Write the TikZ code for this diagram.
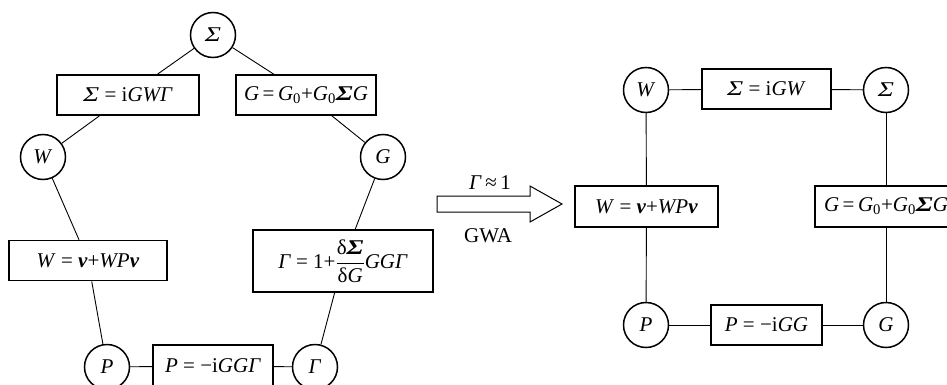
\documentclass[tikz,border=0pt]{standalone}
\usepackage{amsmath,graphicx}
\usepackage{fontspec}
\setmainfont{Liberation Serif}
\newcommand{\vi}[1]{\textit{#1}}
\newcommand{\vb}[1]{\textbf{\textit{#1}}}
\newcommand{\zsub}{\textsubscript{0}}
\newcommand{\Sg}{\scalebox{1.3}[1]{\textit{Σ}}}
\newcommand{\bSg}{\scalebox{1.3}[1]{\textbf{\textit{Σ}}}}
\tikzset{
  circ/.style={circle,draw,line width=1.5pt,minimum size=45pt,inner sep=0pt,fill=white,font=\fontsize{21}{25}\selectfont},
  eqbox/.style={rectangle,draw,line width=1.7pt,fill=white,inner sep=0pt,minimum height=40pt,font=\fontsize{21}{25}\selectfont},
  conn/.style={line width=0.9pt},
  lbl/.style={font=\fontsize{21}{25}\selectfont}
}
\begin{document}
\begin{tikzpicture}[x=1pt,y=1pt]
\useasboundingbox (0,0) rectangle (947,384);
% left diagram
\node[circ] (S) at (213,349) {\Sg};
\node[circ] (W) at (43,227) {\vi{W}};
\node[circ] (G) at (383,227) {\vi{G}};
\node[circ] (P) at (107,17) {\vi{P}};
\node[circ] (Gm) at (315,17) {\vi{Γ}};
\node[eqbox,minimum width=142pt] (b1) at (128,289) {\Sg{} = i\vi{GWΓ}};
\node[eqbox,minimum width=140pt] (b2) at (306,289) {\vi{G}\,=\,\vi{G}\zsub+\vi{G}\zsub\bSg\vi{G}};
\node[eqbox,minimum width=158pt] (b3) at (88,123.5) {\vi{W} = \vb{v}+\vi{WP}\vb{v}};
\node[eqbox,minimum width=180pt,minimum height=62pt] (b4) at (343,123) {\vi{Γ} = 1+$\dfrac{\mbox{δ\bSg}}{\mbox{δ\vi{G}}}$\vi{GGΓ}};
\node[eqbox,minimum width=120pt,minimum height=42pt] (b5) at (213,18) {\vi{P} = −i\vi{GGΓ}};
\draw[conn] (S) -- (b1) (b1) -- (W);
\draw[conn] (S) -- (b2) (b2) -- (G);
\draw[conn] (W) -- (b3) (b3) -- (P);
\draw[conn] (G) -- (b4) (b4) -- (Gm);
\draw[conn] (P) -- (b5) (b5) -- (Gm);
% arrow
\draw[line width=1pt,line join=miter] (437,188) -- (530,188) -- (530,198) -- (562,180) -- (530,162) -- (530,172) -- (437,172) -- cycle;
\node[lbl] (approx) at (490,201) {\vi{Γ}\,≈\,1};
\node[lbl] (gwa) at (488,148) {GWA};
% right diagram
\node[circ] (W2) at (646,294) {\vi{W}};
\node[circ] (S2) at (886,294) {\Sg};
\node[circ] (P2) at (646,59) {\vi{P}};
\node[circ] (G2) at (886,59) {\vi{G}};
\node[eqbox,minimum width=129pt] (c1) at (766.5,295) {\Sg{} = i\vi{GW}};
\node[eqbox,minimum width=143pt,minimum height=41pt] (c2) at (646.5,177.5) {\vi{W} = \vb{v}+\vi{WP}\vb{v}};
\node[eqbox,minimum width=142pt,minimum height=41pt] (c3) at (886,177.5) {\vi{G}\,=\,\vi{G}\zsub+\vi{G}\zsub\bSg\vi{G}};
\node[eqbox,minimum width=111pt] (c4) at (766.5,59) {\vi{P} = −i\vi{GG}};
\draw[conn] (W2) -- (c1) (c1) -- (S2);
\draw[conn] (S2) -- (c3) (c3) -- (G2);
\draw[conn] (G2) -- (c4) (c4) -- (P2);
\draw[conn] (P2) -- (c2) (c2) -- (W2);
\end{tikzpicture}
\end{document}
